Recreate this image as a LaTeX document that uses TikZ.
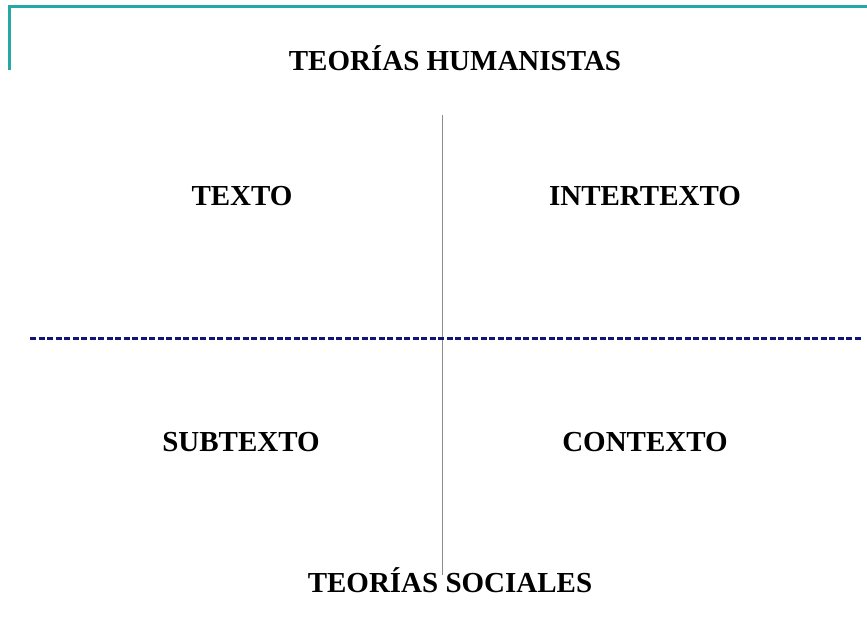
\documentclass[tikz,border=0pt]{standalone}
\usepackage{fontspec}
\setmainfont{Liberation Serif}
\definecolor{frameteal}{RGB}{38,168,164}
\definecolor{dashnavy}{RGB}{20,20,120}
\definecolor{axisgray}{RGB}{140,140,140}
\begin{document}
\begin{tikzpicture}[x=1pt,y=-1pt,
  lbl/.style={font=\bfseries\fontsize{29}{32}\selectfont, inner sep=0pt, anchor=base},
  frameline/.style={draw=frameteal, line width=3pt},
  axisline/.style={draw=axisgray, line width=0.9pt},
  dashline/.style={draw=dashnavy, line width=3pt, dash pattern=on 6pt off 2.5pt}]
\useasboundingbox (0,0) rectangle (867,628);
\coordinate (fa) at (9,70);
\coordinate (fb) at (9,6.5);
\coordinate (fc) at (867,6.5);
\draw[frameline] (fa) -- (fb) -- (fc);
\coordinate (vt) at (442,115);
\coordinate (vb) at (442,575);
\draw[axisline] (vt) -- (vb);
\coordinate (hl) at (30,338);
\coordinate (hr) at (862,338);
\draw[dashline] (hl) -- (hr);
\node[lbl] (hum) at (455,71) {TEORÍAS HUMANISTAS};
\node[lbl] (tex) at (242,206) {TEXTO};
\node[lbl] (int) at (645,206) {INTERTEXTO};
\node[lbl] (sub) at (241,451) {SUBTEXTO};
\node[lbl] (con) at (645,451) {CONTEXTO};
\node[lbl] (soc) at (450,592) {TEORÍAS SOCIALES};
\end{tikzpicture}
\end{document}
